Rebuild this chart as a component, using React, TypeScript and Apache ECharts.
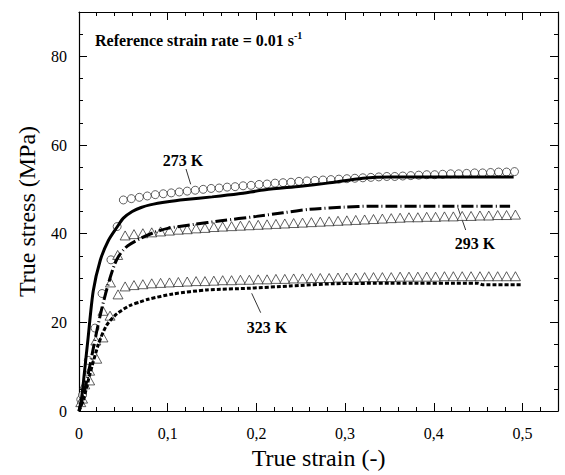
import React, { useEffect, useRef } from "react";
import * as echarts from "echarts";

// ---- data ----
// 273 K model (solid line)
const strain273Line = [0, 0.003, 0.006, 0.01, 0.016, 0.024, 0.033, 0.043, 0.05, 0.06, 0.07, 0.08, 0.1, 0.12, 0.15, 0.18, 0.21, 0.25, 0.28, 0.32, 0.35, 0.4, 0.45, 0.49];
const stress273Line = [0, 3, 8.5, 16, 27, 34, 38.4, 41.5, 43.5, 45, 45.9, 46.5, 47.2, 47.7, 48.3, 49, 49.9, 50.7, 51.4, 52.5, 52.8, 52.8, 52.8, 52.8];

// 293 K model (dashed line)
const strain293Line = [0, 0.005, 0.01, 0.015, 0.02, 0.025, 0.03, 0.035, 0.04, 0.045, 0.05, 0.055, 0.07, 0.085, 0.1, 0.13, 0.16, 0.2, 0.23, 0.26, 0.3, 0.33, 0.4, 0.486];
const stress293Line = [0, 3.5, 8, 13, 18, 22.5, 26.5, 30, 33, 35, 36.3, 37.3, 39, 40.3, 41.2, 42.1, 42.9, 43.9, 44.7, 45.5, 46.0, 46.2, 46.2, 46.2];

// 323 K model (dotted line)
const strain323Line = [0, 0.005, 0.0124, 0.022, 0.031, 0.0425, 0.0575, 0.069, 0.078, 0.106, 0.144, 0.193, 0.238, 0.287, 0.35, 0.45, 0.455, 0.499];
const stress323Line = [0, 2.5, 8.4, 15.1, 19.3, 21.9, 23.8, 24.6, 25.2, 26.4, 27.3, 27.7, 28.2, 28.7, 28.8, 28.8, 28.5, 28.5];

// 273 K experiment (circles)
const strain273Exp = [0.002, 0.004, 0.0105, 0.018, 0.026, 0.036, 0.043,
  0.05, 0.059, 0.068, 0.077, 0.086, 0.095, 0.104, 0.113, 0.122, 0.131, 0.14, 0.149, 0.158, 0.167, 0.176, 0.185, 0.194, 0.203, 0.212, 0.221, 0.23, 0.239, 0.248, 0.257, 0.266, 0.275, 0.284, 0.293, 0.302, 0.311, 0.32, 0.329, 0.338, 0.347, 0.356, 0.365, 0.374, 0.383, 0.392, 0.401, 0.41, 0.419, 0.428, 0.437, 0.446, 0.455, 0.464, 0.473, 0.482, 0.491];
const stress273Exp = [2.6, 3.6, 11.4, 18.7, 26.5, 34.1, 41.6,
  47.6, 47.9, 48.2, 48.5, 48.8, 49.0, 49.2, 49.4, 49.6, 49.8, 50.0, 50.2, 50.3, 50.5, 50.6, 50.8, 50.9, 51.1, 51.2, 51.4, 51.5, 51.6, 51.8, 51.9, 52.0, 52.1, 52.2, 52.3, 52.4, 52.5, 52.6, 52.7, 52.8, 52.9, 52.9, 53.0, 53.1, 53.2, 53.3, 53.3, 53.4, 53.5, 53.5, 53.6, 53.7, 53.7, 53.8, 53.9, 53.9, 54.0];

// 293 K experiment (triangles)
const strain293Exp = [0.002, 0.0065, 0.012, 0.019, 0.027, 0.0355, 0.0436,
  0.052, 0.062, 0.072, 0.082, 0.092, 0.102, 0.112, 0.122, 0.132, 0.142, 0.152, 0.162, 0.172, 0.182, 0.192, 0.202, 0.212, 0.222, 0.232, 0.242, 0.252, 0.262, 0.272, 0.282, 0.292, 0.302, 0.312, 0.322, 0.332, 0.342, 0.352, 0.362, 0.372, 0.382, 0.392, 0.402, 0.412, 0.422, 0.432, 0.442, 0.452, 0.462, 0.472, 0.482, 0.492];
const stress293Exp = [2.0, 6.0, 9.1, 15.9, 22.6, 29.0, 35.2,
  39.6, 39.9, 40.1, 40.3, 40.5, 40.7, 40.9, 41.0, 41.2, 41.3, 41.5, 41.6, 41.7, 41.8, 41.9, 42.0, 42.1, 42.2, 42.3, 42.4, 42.5, 42.6, 42.7, 42.8, 42.9, 43.0, 43.1, 43.2, 43.3, 43.4, 43.5, 43.6, 43.7, 43.7, 43.8, 43.8, 43.9, 43.9, 44.0, 44.0, 44.1, 44.1, 44.2, 44.2, 44.3];

// 323 K experiment (triangles)
const strain323Exp = [0.004, 0.012, 0.02, 0.027, 0.035, 0.044,
  0.052, 0.062, 0.072, 0.082, 0.092, 0.102, 0.112, 0.122, 0.132, 0.142, 0.152, 0.162, 0.172, 0.182, 0.192, 0.202, 0.212, 0.222, 0.232, 0.242, 0.252, 0.262, 0.272, 0.282, 0.292, 0.302, 0.312, 0.322, 0.332, 0.342, 0.352, 0.362, 0.372, 0.382, 0.392, 0.402, 0.412, 0.422, 0.432, 0.442, 0.452, 0.462, 0.472, 0.482, 0.492];
const stress323Exp = [2.8, 6.9, 11.8, 16.6, 21.5, 26.3,
  28.1, 28.4, 28.6, 28.8, 28.9, 29.0, 29.1, 29.2, 29.3, 29.3, 29.4, 29.5, 29.5, 29.6, 29.6, 29.7, 29.7, 29.8, 29.8, 29.9, 29.9, 30.0, 30.0, 30.0, 30.1, 30.1, 30.1, 30.2, 30.2, 30.2, 30.2, 30.3, 30.3, 30.3, 30.3, 30.3, 30.4, 30.4, 30.4, 30.4, 30.4, 30.4, 30.4, 30.4, 30.4];

const xTicksMajor = [0, 0.1, 0.2, 0.3, 0.4, 0.5];
const yTicksMajor = [0, 20, 40, 60, 80];

const FONT = "'Liberation Serif', 'DejaVu Serif', serif";

function pairs(xs: number[], ys: number[]) {
  return xs.map((x, i) => [x, ys[i]]);
}

export default function App() {
  const ref = useRef<HTMLDivElement>(null);
  useEffect(() => {
    if (!ref.current) return;
    const chart = echarts.init(ref.current, null, { renderer: "svg" });
    const X_MIN = 0, X_MAX = 0.54, Y_MIN = 0, Y_MAX = 90;
    const axisCommonX = (position: string, major: boolean, showLine: boolean, showLabel: boolean) => ({
      type: "value",
      position,
      min: X_MIN,
      max: X_MAX,
      interval: major ? 0.1 : 0.02,
      axisLine: { show: showLine, onZero: false, lineStyle: { color: "#000", width: 1.2 } },
      axisTick: { show: true, inside: true, length: major ? 8 : 4, lineStyle: { color: "#000", width: 1 } },
      axisLabel: {
        show: showLabel,
        margin: 14,
        color: "#000",
        fontFamily: FONT,
        fontSize: 16,
        formatter: (v: number) => {
          const hit = xTicksMajor.find((t) => Math.abs(t - v) < 1e-6);
          if (hit === undefined) return "";
          return hit === 0 ? "0" : hit.toFixed(1).replace(".", ",");
        },
      },
      splitLine: { show: false },
    });
    const axisCommonY = (position: string, major: boolean, showLine: boolean, showLabel: boolean) => ({
      type: "value",
      position,
      min: Y_MIN,
      max: Y_MAX,
      interval: major ? 20 : 5,
      axisLine: { show: showLine, onZero: false, lineStyle: { color: "#000", width: 1.2 } },
      axisTick: { show: true, inside: true, length: major ? 8 : 4, lineStyle: { color: "#000", width: 1 } },
      axisLabel: {
        show: showLabel,
        margin: 12,
        color: "#000",
        fontFamily: FONT,
        fontSize: 16,
        formatter: (v: number) => {
          const hit = yTicksMajor.find((t) => Math.abs(t - v) < 1e-6);
          return hit === undefined ? "" : String(hit);
        },
      },
      splitLine: { show: false },
    });

    const xAxes: any[] = [
      { ...axisCommonX("bottom", true, true, true), name: "True strain (-)", nameLocation: "middle", nameGap: 35, nameTextStyle: { fontFamily: FONT, fontSize: 24, color: "#000" } },
      axisCommonX("bottom", false, false, false),
      axisCommonX("top", true, true, false),
      axisCommonX("top", false, false, false),
    ];
    const yAxes: any[] = [
      { ...axisCommonY("left", true, true, true), name: "True stress (MPa)", nameLocation: "middle", nameGap: 40, nameTextStyle: { fontFamily: FONT, fontSize: 24, color: "#000" } },
      axisCommonY("left", false, false, false),
      axisCommonY("right", true, true, false),
      axisCommonY("right", false, false, false),
    ];

    const markerSeries = (name: string, data: number[][], symbol: string, size: any) => ({
      name,
      type: "scatter",
      xAxisIndex: 0,
      yAxisIndex: 0,
      data,
      symbol,
      symbolSize: size,
      z: 2,
      itemStyle: { color: "#fff", borderColor: "#222", borderWidth: 0.9 },
    });
    const lineSeries = (name: string, data: number[][], type: any) => ({
      name,
      type: "line",
      xAxisIndex: 0,
      yAxisIndex: 0,
      data,
      symbol: "none",
      smooth: 0.25,
      z: 3,
      lineStyle: { color: "#000", width: 3, type },
    });

    const labelStyle = { fontFamily: FONT, fontSize: 16, fontWeight: "bold", fill: "#000" };

    chart.setOption({
      animation: false,
      backgroundColor: "#fff",
      grid: { left: 79, right: 7, top: 12, bottom: 61, containLabel: false },
      xAxis: xAxes,
      yAxis: yAxes,
      series: [
        markerSeries("273 K exp", pairs(strain273Exp, stress273Exp), "circle", 8),
        markerSeries("293 K exp", pairs(strain293Exp, stress293Exp), "triangle", [10, 9]),
        markerSeries("323 K exp", pairs(strain323Exp, stress323Exp), "triangle", [10, 9]),
        lineSeries("273 K model", pairs(strain273Line, stress273Line), "solid"),
        lineSeries("293 K model", pairs(strain293Line, stress293Line), [12, 3, 1, 3]),
        lineSeries("323 K model", pairs(strain323Line, stress323Line), [4, 2]),
      ],
      graphic: [
        {
          type: "text",
          left: 95,
          top: 30,
          style: {
            text: "{a|Reference strain rate = 0.01 s}{b|-1}",
            rich: {
              a: { fontFamily: FONT, fontSize: 16, fontWeight: "bold", fill: "#000", lineHeight: 18, verticalAlign: "bottom" },
              b: { fontFamily: FONT, fontSize: 10, fontWeight: "bold", fill: "#000", lineHeight: 18, verticalAlign: "top", padding: [0, 0, 8, 0] },
            },
          },
        },
        { type: "text", x: 183, y: 160, style: { ...labelStyle, text: "273 K", align: "center", verticalAlign: "middle" } },
        { type: "line", shape: { x1: 186, y1: 169, x2: 190.7, y2: 184.3 }, style: { stroke: "#000", lineWidth: 0.8 } },
        { type: "text", x: 475, y: 243, style: { ...labelStyle, text: "293 K", align: "center", verticalAlign: "middle" } },
        { type: "line", shape: { x1: 458, y1: 208, x2: 465.7, y2: 230 }, style: { stroke: "#000", lineWidth: 0.8 } },
        { type: "text", x: 267, y: 327, style: { ...labelStyle, text: "323 K", align: "center", verticalAlign: "middle" } },
        { type: "line", shape: { x1: 251.7, y1: 293.3, x2: 260.7, y2: 312.7 }, style: { stroke: "#000", lineWidth: 0.8 } },
      ],
    });
    return () => chart.dispose();
  }, []);
  return <div ref={ref} style={{ position: "fixed", left: 0, top: 0, width: 565, height: 475, background: "#fff" }} />;
}
